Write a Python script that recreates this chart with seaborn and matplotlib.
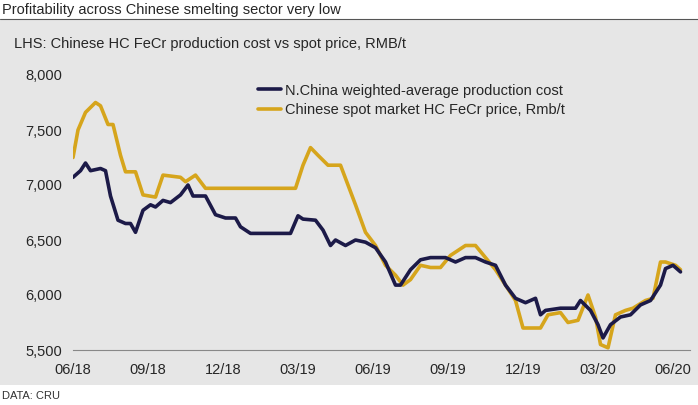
import matplotlib
matplotlib.use("Agg")
import matplotlib.pyplot as plt
import matplotlib.patches as mpatches
import seaborn as sns
import pandas as pd

cost_m = [0,0.3,0.5,0.7,1.1,1.3,1.5,1.8,2.1,2.3,2.5,2.8,3.1,3.3,3.6,3.9,4.3,4.6,4.8,5.3,5.7,6.1,6.5,6.7,7.1,8.3,8.7,9.0,9.2,9.7,10.0,10.3,10.5,10.9,11.3,11.7,12.1,12.5,12.9,13.1,13.5,13.9,14.3,14.9,15.3,15.7,16.1,16.5,16.9,17.3,17.7,18.1,18.5,18.7,18.9,19.5,20.1,20.3,20.7,21.0,21.2,21.5,21.9,22.3,22.7,23.1,23.5,23.7,24.0,24.3]
cost_v = [7070,7130,7200,7130,7150,7130,6900,6680,6650,6650,6570,6770,6820,6800,6860,6840,6910,7000,6900,6900,6730,6700,6700,6620,6560,6560,6560,6720,6690,6680,6590,6450,6500,6450,6500,6480,6430,6300,6090,6090,6230,6320,6340,6340,6300,6340,6340,6300,6270,6090,5970,5930,5970,5820,5860,5880,5880,5950,5860,5730,5610,5730,5800,5820,5910,5950,6090,6240,6270,6210]
spot_m = [0,0.2,0.5,0.9,1.1,1.4,1.6,1.9,2.1,2.5,2.8,3.3,3.6,4.3,4.5,4.9,5.3,6.7,8.9,9.2,9.5,9.8,10.2,10.7,11.3,11.7,12.1,12.5,12.9,13.2,13.5,13.9,14.3,14.7,15.1,15.7,16.1,16.5,16.9,17.3,17.7,18.0,18.7,19.0,19.5,19.8,20.2,20.6,20.9,21.1,21.4,21.7,22.1,22.4,22.9,23.2,23.5,23.7,24.1,24.3]
spot_v = [7250,7500,7660,7750,7720,7550,7550,7270,7120,7120,6910,6890,7090,7070,7030,7090,6970,6970,6970,7180,7340,7270,7180,7180,6820,6570,6450,6270,6180,6090,6140,6270,6250,6250,6360,6450,6450,6340,6230,6090,5950,5700,5700,5820,5840,5750,5770,6000,5800,5550,5520,5820,5860,5880,5950,5970,6300,6300,6270,6230]
tick_pos = [0,3,6,9,12,15,18,21,24]
tick_labels = ["06/18","09/18","12/18","03/19","06/19","09/19","12/19","03/20","06/20"]
y_ticks = [5500,6000,6500,7000,7500,8000]

sns.set_style("white")
plt.rcParams['font.family'] = ['Liberation Sans', 'DejaVu Sans']

W, H = 698, 405
fig = plt.figure(figsize=(W/100, H/100), dpi=100)
fig.patch.set_facecolor("white")
fig.patches.append(mpatches.Rectangle((0, 20/H), 1, (385-20)/H, transform=fig.transFigure,
                                      facecolor="#e6e6e6", edgecolor="none", zorder=-10))
fig.lines.append(plt.Line2D([0,1],[1-19/H,1-19/H], transform=fig.transFigure, color="#555555", lw=0.8))
fig.text(2/W, 1-10/H, "Profitability across Chinese smelting sector very low", fontsize=10.5, va="center", ha="left")
fig.text(14/W, 1-44/H, "LHS: Chinese HC FeCr production cost vs spot price, RMB/t", fontsize=10.5, va="center", ha="left")
fig.text(2/W, 1-396/H, "DATA: CRU", fontsize=8, va="center", ha="left", color="#333333")

ax = fig.add_axes([73/W, 1-350/H, (690-73)/W, (350-75)/H])
ax.set_zorder(5)
ax.set_facecolor("none")
df1 = pd.DataFrame({"m": cost_m, "v": cost_v})
df2 = pd.DataFrame({"m": spot_m, "v": spot_v})
sns.lineplot(data=df2, x="m", y="v", ax=ax, color="#d6a51c", lw=2.6, label="Chinese spot market HC FeCr price, Rmb/t")
sns.lineplot(data=df1, x="m", y="v", ax=ax, color="#1c1a48", lw=2.6, label="N.China weighted-average production cost")
ax.set_xlim(0, 24.68)
ax.set_ylim(5500, 8000)
ax.set_xticks(tick_pos)
ax.set_xticklabels(tick_labels, fontsize=10.5)
ax.set_yticks(y_ticks)
ax.set_yticklabels([f"{v:,}" for v in y_ticks], fontsize=10.5)
ax.set_xlabel(""); ax.set_ylabel("")
for s in ["top", "right", "left"]:
    ax.spines[s].set_visible(False)
ax.spines["bottom"].set_color("#888888")
ax.tick_params(axis="x", direction="out", length=5, color="#888888", pad=4)
ax.tick_params(axis="y", length=0, pad=8)
h, l = ax.get_legend_handles_labels()
ax.legend(h[::-1], l[::-1], loc="upper left", bbox_to_anchor=(0.29, 0.99), frameon=False,
          fontsize=10.5, handlelength=1.6, handletextpad=0.3, labelspacing=0.4, borderaxespad=0)
fig.savefig("out.png", dpi=100)
